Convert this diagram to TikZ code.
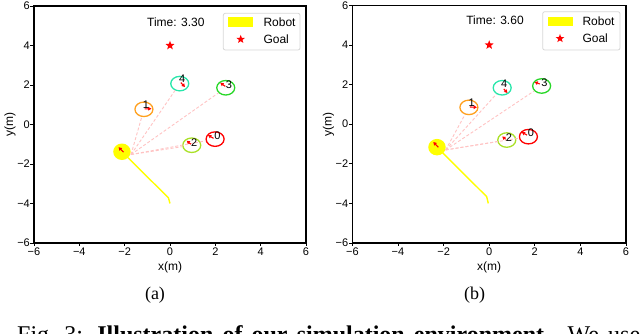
\documentclass[tikz,border=0pt]{standalone}
\usepackage{fontspec}
\setmainfont{Liberation Serif}
\newfontfamily\plotfont{Liberation Sans}
\usetikzlibrary{shapes.geometric,arrows.meta}

\definecolor{hred}{RGB}{255,0,0}
\definecolor{horange}{RGB}{255,160,30}
\definecolor{hyg}{RGB}{170,225,40}
\definecolor{hgreen}{RGB}{40,215,40}
\definecolor{hteal}{RGB}{40,230,170}
\definecolor{pinkdash}{RGB}{255,195,195}
\definecolor{legframe}{RGB}{215,215,215}
\definecolor{robotyellow}{RGB}{255,255,0}

\tikzset{
  axisframe/.style={line width=1.2pt, black},
  tickmark/.style={line width=0.9pt, black},
  ticklab/.style={font=\plotfont\fontsize{11}{11}\selectfont, inner sep=0pt},
  axlab/.style={font=\plotfont\fontsize{12}{12}\selectfont, inner sep=0pt},
  human/.style={ellipse, draw=#1, line width=1.3pt, minimum width=18pt, minimum height=14.5pt, inner sep=0pt},
  hlabel/.style={font=\plotfont\fontsize{11}{11}\selectfont, inner sep=0pt},
  robotbody/.style={ellipse, fill=robotyellow, minimum width=17.5pt, minimum height=16.5pt, inner sep=0pt},
  traj/.style={robotyellow, line width=1.4pt},
  vel/.style={red, line width=1.1pt, -{Triangle[length=3.2pt,width=3.6pt]}},
  ray/.style={pinkdash, line width=0.9pt, dash pattern=on 3pt off 2pt},
  goalstar/.style={star, star points=5, star point ratio=2.4, fill=red, minimum size=9.5pt, inner sep=0pt},
  legbox/.style={draw=legframe, fill=white, rounded corners=2pt, line width=0.8pt},
  subcap/.style={font=\fontsize{18}{18}\selectfont, inner sep=0pt},
  figcap/.style={font=\fontsize{24}{24}\selectfont, inner sep=0pt},
  timelab/.style={font=\plotfont\fontsize{12}{12}\selectfont, inner sep=0pt},
}

\newcommand\plotaxes[1]{%
  \draw[axisframe] (-6,-6) rectangle (6,6);
  \foreach \v/\t in {-6/−6,-4/−4,-2/−2,0/0,2/2,4/4,6/6}{%
    \draw[tickmark] (\v,-6) -- ++(0,-3.5pt);
    \node[ticklab, anchor=north] (#1-xt\v) at ([yshift=-4.8pt]\v,-6) {\t};
    \draw[tickmark] (-6,\v) -- ++(-3.5pt,0);
    \node[ticklab, anchor=east] (#1-yt\v) at ([xshift=-4pt]-6,\v) {\t};
  }
  \node[axlab] (#1-xlab) at ([yshift=-24pt]0,-6) {x(m)};
  \node[axlab, rotate=90] (#1-ylab) at ([xshift=-24pt]-6,0) {y(m)};
}

\begin{document}
\begin{tikzpicture}[x=1pt, y=1pt]
\useasboundingbox (0,0) rectangle (640,334);
\clip (0,0) rectangle (640,334);

% ---------------- left plot (a) ----------------
\begin{scope}[shift={(170,209.5)}, x=22.667pt, y=19.75pt]
  \plotaxes{a}
  \coordinate (a-rc) at (-2.12,-1.38);
  \coordinate (a-t0) at (0,-4);
  \coordinate (a-t1) at (-0.07,-3.71);
  \draw[traj] (a-t0) -- (a-t1) -- (a-rc);
  \node[goalstar] (a-goal) at (0,4) {};
  \node[human=hred] (a-h0) at (1.99,-0.74) {};
  \node[human=horange] (a-h1) at (-1.15,0.77) {};
  \node[human=hyg] (a-h2) at (0.96,-1.05) {};
  \node[human=hgreen] (a-h3) at (2.46,1.86) {};
  \node[human=hteal] (a-h4) at (0.43,2.07) {};
  \node[robotbody] (a-robot) at (a-rc) {};
  \coordinate (a-src) at (-1.72,-1.52);
  \foreach \h in {0,...,4} {\draw[ray] (a-src) -- (a-h\h);}
  \draw[vel] (1.92,-0.70) -- (1.68,-0.54);
  \draw[vel] (0.92,-1.00) -- (0.74,-0.82);
  \draw[vel] (-1.12,0.79) -- (-0.82,0.80);
  \draw[vel] (0.48,2.12) -- (0.66,1.90);
  \draw[vel] (2.44,1.93) -- (2.22,2.11);
  \draw[vel] (-2.05,-1.40) -- (-2.27,-1.15);
  \node[hlabel] (a-l0) at (2.09,-0.56) {0};
  \node[hlabel] (a-l1) at (-1.06,1.00) {1};
  \node[hlabel] (a-l2) at (1.07,-0.90) {2};
  \node[hlabel] (a-l3) at (2.60,2.03) {3};
  \node[hlabel] (a-l4) at (0.54,2.31) {4};
\end{scope}

% legend and time (a)
\node[timelab] (a-time) at (175.8,312) {Time: 3.30};
\draw[legbox] (223.3,284) rectangle (300,320.7);
\fill[robotyellow] (228.3,307.3) rectangle (253.3,316.7);
\node[timelab, anchor=west] (a-legrobot) at (263.3,312) {Robot};
\node[goalstar, minimum size=9pt] (a-legstar) at (240.7,294.7) {};
\node[timelab, anchor=west] (a-leggoal) at (263.3,294.7) {Goal};

% ---------------- right plot (b) ----------------
\begin{scope}[shift={(489.2,209.8)}, x=22.8pt, y=19.8pt]
  \plotaxes{b}
  \coordinate (b-rc) at (-2.29,-1.16);
  \coordinate (b-t0) at (-0.04,-4);
  \coordinate (b-t1) at (-0.11,-3.66);
  \draw[traj] (b-t0) -- (b-t1) -- (b-rc);
  \node[goalstar] (b-goal) at (0,4) {};
  \node[human=hred] (b-h0) at (1.72,-0.63) {};
  \node[human=horange] (b-h1) at (-0.89,0.85) {};
  \node[human=hyg] (b-h2) at (0.77,-0.80) {};
  \node[human=hgreen] (b-h3) at (2.30,1.93) {};
  \node[human=hteal] (b-h4) at (0.57,1.84) {};
  \node[robotbody] (b-robot) at (b-rc) {};
  \coordinate (b-src) at (-1.91,-1.30);
  \foreach \h in {0,...,4} {\draw[ray] (b-src) -- (b-h\h);}
  \draw[vel] (1.66,-0.55) -- (1.43,-0.40);
  \draw[vel] (0.72,-0.76) -- (0.57,-0.62);
  \draw[vel] (-0.85,0.87) -- (-0.54,0.85);
  \draw[vel] (0.64,1.78) -- (0.80,1.58);
  \draw[vel] (2.22,2.03) -- (1.99,2.13);
  \draw[vel] (-2.23,-1.17) -- (-2.45,-0.90);
  \node[hlabel] (b-l0) at (1.83,-0.43) {0};
  \node[hlabel] (b-l1) at (-0.77,1.06) {1};
  \node[hlabel] (b-l2) at (0.87,-0.68) {2};
  \node[hlabel] (b-l3) at (2.42,2.07) {3};
  \node[hlabel] (b-l4) at (0.66,2.03) {4};
\end{scope}

% legend and time (b)
\node[timelab] (b-time) at (495,313.3) {Time: 3.60};
\draw[legbox] (542.7,284) rectangle (620,322.3);
\fill[robotyellow] (547.7,308) rectangle (573.3,317.3);
\node[timelab, anchor=west] (b-legrobot) at (582.3,312.3) {Robot};
\node[goalstar, minimum size=9pt] (b-legstar) at (560,295.5) {};
\node[timelab, anchor=west] (b-leggoal) at (582.3,295.3) {Goal};

% sub-captions
\node[subcap] (capa) at (155,39) {(a)};
\node[subcap] (capb) at (474.5,39) {(b)};

% figure caption (cut by the lower edge)
\node[figcap, anchor=base west] (figcaption) at (17,-8.6)
  {\hbox to 623pt{Fig.\ 3: \textbf{Illustration of our simulation environment.} We use}};
\end{tikzpicture}
\end{document}
